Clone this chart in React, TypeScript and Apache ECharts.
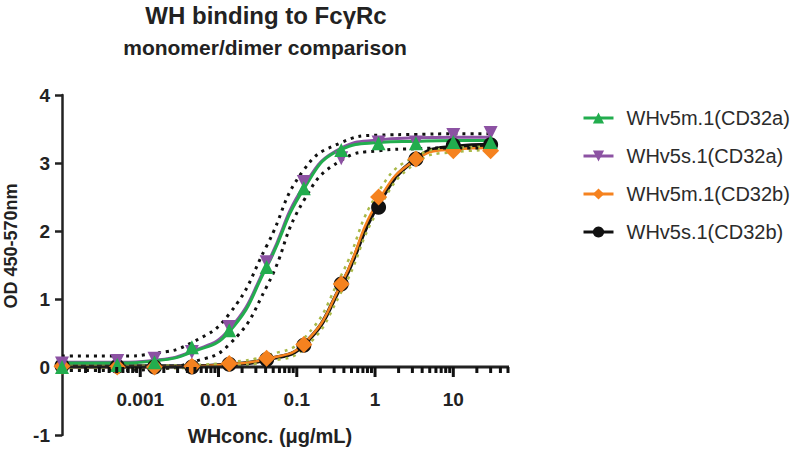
import React, { useEffect, useRef } from "react";
import * as echarts from "echarts";

// concentrations (µg/mL), first point = blank plotted at axis start
const conc = [0.0001, 0.000508, 0.00152, 0.00457, 0.0137, 0.0412, 0.123, 0.37, 1.11, 3.33, 10, 30];

const names = ["WHv5m.1(CD32a)", "WHv5s.1(CD32a)", "WHv5m.1(CD32b)", "WHv5s.1(CD32b)"];

// measured points
const greenPts = [0.0, 0.03, 0.07, 0.29, 0.54, 1.47, 2.63, 3.19, 3.29, 3.29, 3.31, 3.31];
const purplePts = [0.05, 0.09, 0.12, 0.22, 0.59, 1.54, 2.72, 3.07, 3.3, 3.3, 3.41, 3.44];
const orangePts = [0.01, 0.0, 0.0, 0.01, 0.05, 0.13, 0.33, 1.22, 2.5, 3.06, 3.18, 3.18];
const blackPts = [0.02, 0.01, 0.0, 0.0, 0.04, 0.11, 0.32, 1.22, 2.35, 3.06, 3.26, 3.27];

// fitted curves
const greenFit = [0.06, 0.06, 0.09, 0.22, 0.52, 1.47, 2.62, 3.2, 3.3, 3.32, 3.33, 3.33];
const purpleFit = [0.07, 0.07, 0.1, 0.23, 0.55, 1.5, 2.66, 3.22, 3.34, 3.37, 3.38, 3.38];
const orangeFit = [0.0, 0.0, 0.0, 0.01, 0.04, 0.12, 0.34, 1.22, 2.45, 3.05, 3.2, 3.22];
const blackFit = [0.01, 0.01, 0.01, 0.01, 0.04, 0.11, 0.33, 1.2, 2.4, 3.06, 3.24, 3.27];

// dotted confidence bands
const aUpper = [0.16, 0.16, 0.2, 0.36, 0.78, 1.78, 2.9, 3.3, 3.41, 3.42, 3.43, 3.43];
const aLower = [-0.05, -0.05, -0.03, 0.07, 0.33, 1.18, 2.45, 3.04, 3.18, 3.21, 3.22, 3.22];
const bUpper = [0.02, 0.02, 0.02, 0.03, 0.07, 0.17, 0.42, 1.35, 2.58, 3.1, 3.22, 3.24];
const bLower = [-0.02, -0.02, -0.02, -0.01, 0.02, 0.08, 0.27, 1.1, 2.32, 3.0, 3.16, 3.19];

// x axis: decades and their labels
const xMin = 0.0001;
const xMax = 50;
const xMajorTicks = [0.0001, 0.001, 0.01, 0.1, 1, 10];
const xTickLabels = ["", "0.001", "0.01", "0.1", "1", "10"];
const yMin = -1;
const yMax = 4;
const yInterval = 1;

const FONT = "'Liberation Sans', Arial, Helvetica, sans-serif";
const INK = "#222222";

const C_GREEN = "#22ad4e";
const C_PURPLE = "#8c52a3";
const C_ORANGE = "#f5821f";
const C_BLACK = "#111111";
const C_OLIVE = "#a9b948";

export default function App() {
  const ref = useRef<HTMLDivElement>(null);

  useEffect(() => {
    if (!ref.current) return;
    const chart = echarts.init(ref.current, null, { renderer: "svg" });

    const pairs = (vals: number[]) => conc.map((c, i) => [c, vals[i]]);

    const majorTickData: number[][] = xMajorTicks.map((d, i) => [d, 0, i]);
    const minorTickData: number[][] = [];
    xMajorTicks.forEach((d) => {
      for (let k = 2; k <= 9; k++) {
        const v = k * d;
        if (v <= xMax * 1.0001) minorTickData.push([v, 0]);
      }
    });

    const tickSeries = (data: number[][], len: number) => ({
      type: "scatter",
      name: "ticks" + len,
      data,
      symbol: "rect",
      symbolSize: [3, len],
      symbolOffset: [0, len / 2],
      silent: true,
      clip: false,
      z: 30,
      itemStyle: { color: "#111111", opacity: 1 },
    });

    const fit = (vals: number[], color: string, width: number, z: number, dash?: any) => ({
      type: "line",
      name: "fit" + color + z,
      data: pairs(vals),
      smooth: 0.5,
      symbol: "none",
      showSymbol: false,
      silent: true,
      clip: false,
      z,
      lineStyle: { color, width, type: dash || "solid", cap: dash ? "butt" : "round" },
    });

    const marks = (name: string, vals: number[], color: string, symbol: string, size: number, rotate: number, z: number) => ({
      type: "line",
      name,
      data: pairs(vals),
      symbol,
      symbolSize: size,
      symbolRotate: rotate,
      showSymbol: true,
      showAllSymbol: true,
      clip: false,
      z,
      itemStyle: { color, opacity: 1 },
      lineStyle: { color, width: 0 },
    });

    const option: any = {
      animation: false,
      backgroundColor: "#ffffff",
      textStyle: { fontFamily: FONT },
      grid: { left: 62, right: 292, top: 95, bottom: 14, containLabel: false, outerBoundsMode: "none" },
      graphic: [
        {
          type: "text",
          x: 266,
          y: 15,
          style: { text: "WH binding to FcγRc", font: `bold 24px ${FONT}`, fill: INK, align: "center", verticalAlign: "middle" },
        },
        {
          type: "text",
          x: 265,
          y: 47,
          style: { text: "monomer/dimer comparison", font: `bold 21px ${FONT}`, fill: INK, align: "center", verticalAlign: "middle" },
        },
        {
          type: "text",
          x: 270,
          y: 436,
          style: { text: "WHconc. (μg/mL)", font: `bold 20px ${FONT}`, fill: INK, align: "center", verticalAlign: "middle" },
        },
        {
          type: "text",
          x: 11,
          y: 246,
          rotation: Math.PI / 2,
          style: { text: "OD 450-570nm", font: `bold 18px ${FONT}`, fill: INK, align: "center", verticalAlign: "middle" },
        },
      ],
      legend: {
        orient: "vertical",
        left: 577,
        top: 102,
        itemWidth: 30,
        itemHeight: 14,
        itemGap: 16,
        textStyle: { fontSize: 20, color: "#2b2b2b", fontFamily: FONT, padding: [0, 0, 0, 8], lineHeight: 22 },
        data: names.map((n) => ({ name: n, lineStyle: { width: 3, opacity: 1 } })),
      },
      xAxis: {
        type: "log",
        logBase: 10,
        min: xMin,
        max: xMax,
        splitLine: { show: false },
        axisLine: { show: false },
        axisTick: { show: false },
        axisLabel: { show: false },
      },
      yAxis: {
        type: "value",
        min: yMin,
        max: yMax,
        interval: yInterval,
        splitLine: { show: false },
        axisLine: { show: true, onZero: false, lineStyle: { color: INK, width: 2.5 } },
        axisTick: { show: true, length: 7, lineStyle: { color: INK, width: 2.5 } },
        axisLabel: { margin: 12, fontSize: 19, fontWeight: "bold", color: INK, fontFamily: FONT },
      },
      series: [
        {
          // x axis line and labels at y = 0, placed through the axes
          type: "custom",
          name: "xAxisAtZero",
          data: majorTickData,
          silent: true,
          clip: false,
          z: 10,
          encode: { x: 0, y: 1 },
          renderItem: (params: any, api: any) => {
            const p = api.coord([api.value(0), api.value(1)]);
            const li = api.value(2);
            const children: any[] = [
              {
                type: "text",
                x: p[0],
                y: p[1] + 32,
                style: {
                  text: xTickLabels[li],
                  font: `bold 19px ${FONT}`,
                  fill: INK,
                  align: "center",
                  verticalAlign: "middle",
                },
              },
            ];
            if (params.dataIndex === 0) {
              const e = api.coord([xMax, 0]);
              children.push({
                type: "rect",
                shape: { x: p[0] - 1, y: p[1] - 1.5, width: e[0] - p[0] + 2, height: 3 },
                style: { fill: INK, stroke: null },
              });
            }
            return { type: "group", children };
          },
        },
        tickSeries(majorTickData.slice(1), 10),
        tickSeries(minorTickData, 6),
        fit(blackFit, C_BLACK, 4, 2),
        fit(orangeFit, C_ORANGE, 2.5, 3),
        fit(bUpper, C_OLIVE, 2.5, 3, [3, 5]),
        fit(bLower, C_OLIVE, 2.5, 3, [3, 5]),
        fit(purpleFit, C_PURPLE, 3, 4),
        fit(greenFit, C_GREEN, 3, 5),
        fit(aUpper, C_BLACK, 3, 5, [3, 5]),
        fit(aLower, C_BLACK, 3, 5, [3, 5]),
        marks(names[3], blackPts, C_BLACK, "circle", 15, 0, 16),
        marks(names[2], orangePts, C_ORANGE, "diamond", 17, 0, 17),
        marks(names[1], purplePts, C_PURPLE, "triangle", 14, 180, 18),
        marks(names[0], greenPts, C_GREEN, "triangle", 14, 0, 19),
      ],
    };

    chart.setOption(option);
    return () => chart.dispose();
  }, []);

  return (
    <div
      ref={ref}
      style={{ position: "fixed", left: 0, top: 0, width: 800, height: 449, background: "#fff" }}
    />
  );
}
